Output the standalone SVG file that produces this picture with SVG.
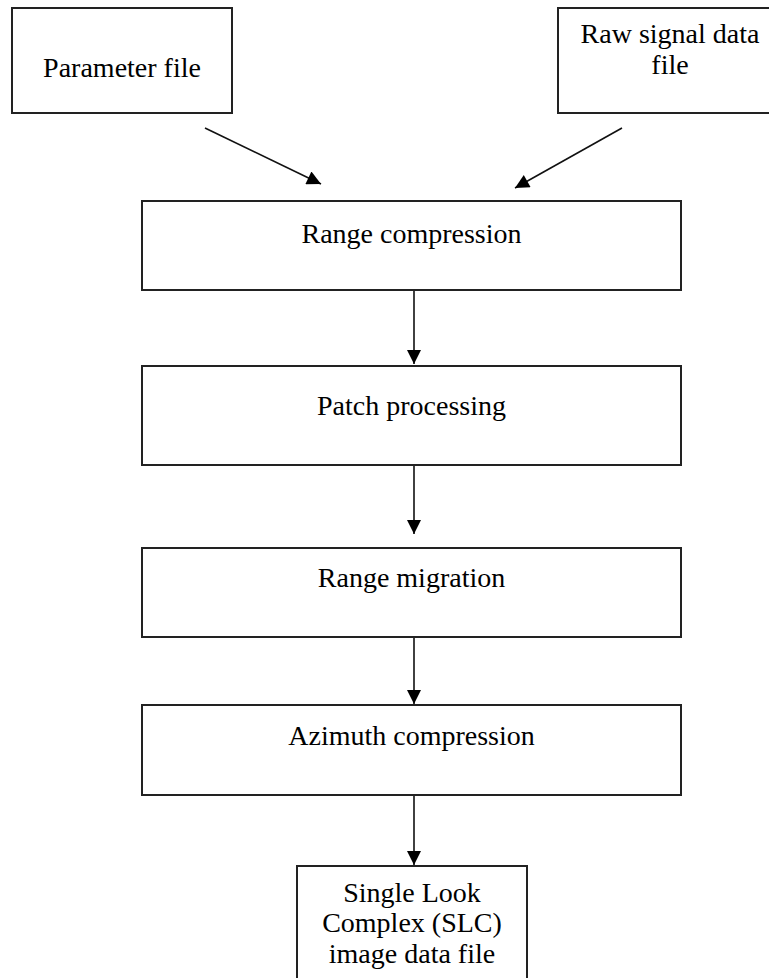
<svg xmlns="http://www.w3.org/2000/svg" width="769" height="978" viewBox="0 0 769 978">
<style>
.box{fill:#fff;stroke:#222;stroke-width:2}
.t{font-family:"Liberation Serif","Times New Roman",serif;font-size:28px;fill:#000;text-anchor:middle}
.c{stroke:#111;stroke-width:1.6;fill:none;marker-end:url(#ah)}
</style>
<defs>
<marker id="ah" viewBox="0 0 10 10" refX="10" refY="5" markerUnits="userSpaceOnUse" markerWidth="17" markerHeight="14" orient="auto">
<path d="M0,0 L10,5 L0,10 z" fill="#000"/>
</marker>
</defs>
<rect width="769" height="978" fill="#fff"/>
<g id="connectors">
<line class="c" x1="205" y1="128" x2="321" y2="184"/>
<line class="c" x1="622" y1="128" x2="515" y2="188"/>
<line class="c" x1="414" y1="290" x2="414" y2="364"/>
<line class="c" x1="414" y1="465" x2="414" y2="534"/>
<line class="c" x1="414" y1="637" x2="414" y2="704"/>
<line class="c" x1="414" y1="795" x2="414" y2="865"/>
</g>
<g id="param">
<rect class="box" x="12" y="8" width="220" height="105"/>
<text class="t" x="122" y="77">Parameter file</text>
</g>
<g id="raw">
<rect class="box" x="558" y="8" width="225" height="105"/>
<text class="t" x="670" y="43">Raw signal data</text>
<text class="t" x="670" y="74">file</text>
</g>
<g id="range">
<rect class="box" x="142" y="201" width="539" height="89"/>
<text class="t" x="411.5" y="243">Range compression</text>
</g>
<g id="patch">
<rect class="box" x="142" y="366" width="539" height="99"/>
<text class="t" x="411.5" y="415">Patch processing</text>
</g>
<g id="migration">
<rect class="box" x="142" y="548" width="539" height="89"/>
<text class="t" x="411.5" y="587">Range migration</text>
</g>
<g id="azimuth">
<rect class="box" x="142" y="705" width="539" height="90"/>
<text class="t" x="411.5" y="745">Azimuth compression</text>
</g>
<g id="slc">
<rect class="box" x="297" y="866" width="230" height="130"/>
<text class="t" x="412" y="902">Single Look</text>
<text class="t" x="412" y="932">Complex (SLC)</text>
<text class="t" x="412" y="963">image data file</text>
</g>
</svg>
